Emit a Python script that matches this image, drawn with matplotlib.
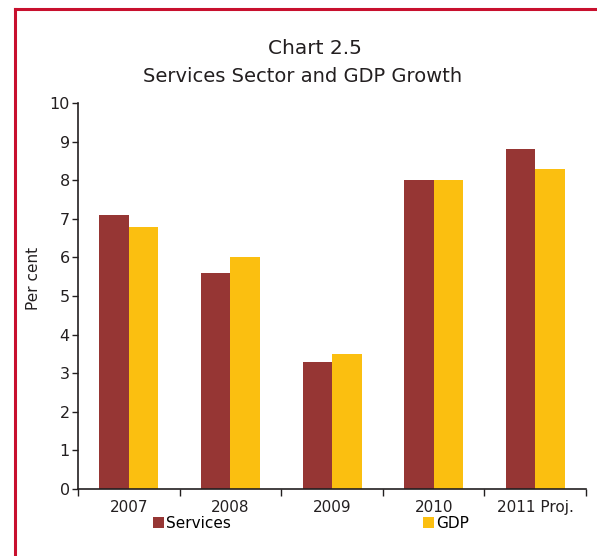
import matplotlib.pyplot as plt
import numpy as np
from matplotlib.lines import Line2D

years = ['2007', '2008', '2009', '2010', '2011 Proj.']
services = [7.1, 5.6, 3.3, 8.0, 8.8]
gdp = [6.8, 6.0, 3.5, 8.0, 8.3]

plt.rcParams['font.family'] = ['DejaVu Sans']

fig = plt.figure(figsize=(5.97, 5.56), dpi=100)
ax = fig.add_axes([0.1307, 0.1205, 0.851, 0.6942])

x = np.arange(len(years))
w = 0.29
ax.bar(x - w / 2, services, w, color='#963634', label='Services')
ax.bar(x + w / 2, gdp, w, color='#fbbf10', label='GDP')

ax.set_xlim(-0.5, len(years) - 0.5)
ax.set_ylim(0, 10)
ax.set_yticks(range(0, 11))
ax.set_xticks(x)
ax.set_xticklabels(years)
ax.set_xticks(np.arange(-0.5, len(years)), minor=True)
ax.tick_params(axis='x', which='major', length=0, labelsize=11, pad=8, colors='#231f20')
ax.tick_params(axis='x', which='minor', length=5, width=1, color='#231f20')
ax.tick_params(axis='y', length=4, width=1, labelsize=11.5, pad=2, colors='#231f20')
for s in ['top', 'right']:
    ax.spines[s].set_visible(False)
for s in ['left', 'bottom']:
    ax.spines[s].set_color('#231f20')
    ax.spines[s].set_linewidth(1.2)

fig.text(33 / 597, 1 - 278 / 556, 'Per cent', rotation=90, ha='center', va='center',
         fontsize=11, color='#231f20')
fig.text(315 / 597, 1 - 48 / 556, 'Chart 2.5', ha='center', va='center',
         fontsize=14.5, color='#231f20')
fig.text(303 / 597, 1 - 77 / 556, 'Services Sector and GDP Growth', ha='center',
         va='center', fontsize=14, color='#231f20')

ax.legend(loc='center left', bbox_to_anchor=(153 / 597, 1 - 523 / 556),
          bbox_transform=fig.transFigure, ncol=2, frameon=False, fontsize=11,
          handlelength=0.7, handleheight=0.7, handletextpad=0.15,
          columnspacing=12.6, borderpad=0, borderaxespad=0)

# red frame around the chart
fig.add_artist(Line2D([15 / 597, 15 / 597], [0, 1 - 9 / 556], color='#c8102e', lw=2.2,
                      transform=fig.transFigure))
fig.add_artist(Line2D([15 / 597, 1], [1 - 9 / 556, 1 - 9 / 556], color='#c8102e', lw=2.2,
                      transform=fig.transFigure))

fig.savefig('out.png', dpi=100)
